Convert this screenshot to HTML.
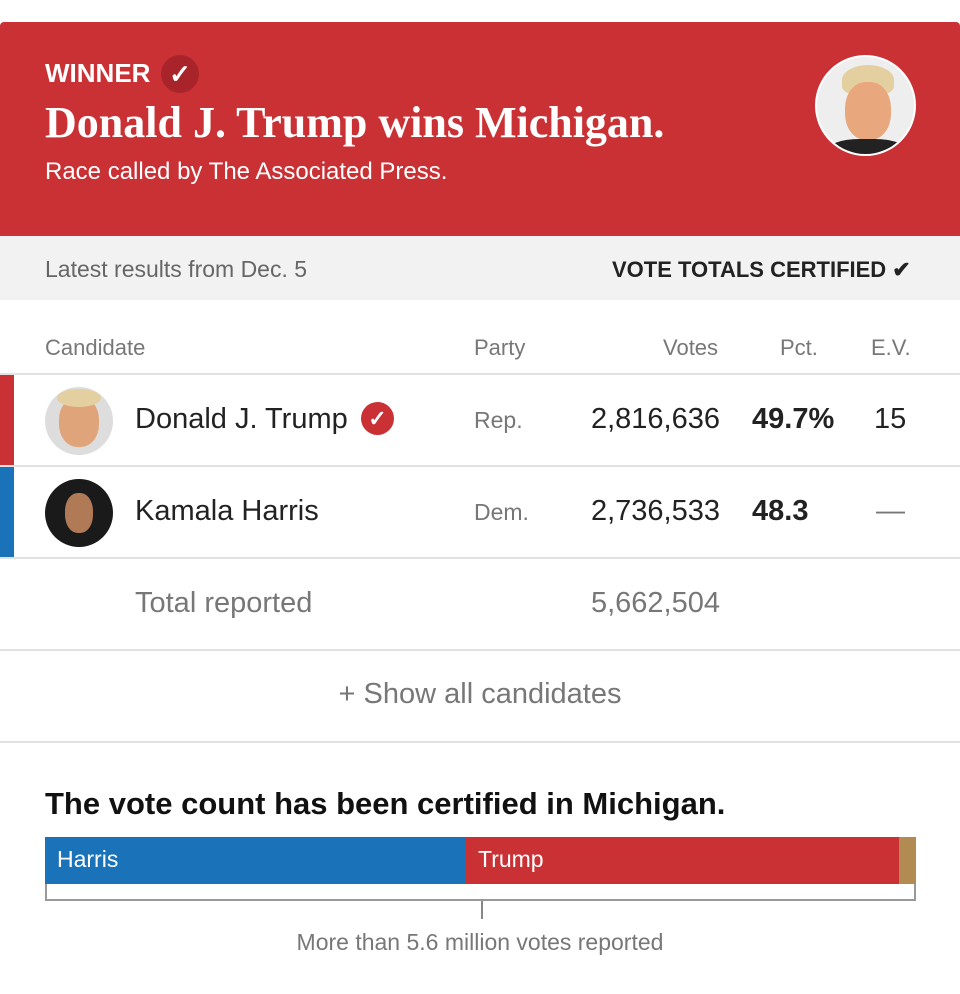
<!DOCTYPE html>
<html><head><meta charset="utf-8"><style>
*{margin:0;padding:0;box-sizing:border-box}
body{width:960px;height:994px;background:#fff;font-family:"Liberation Sans",sans-serif;position:relative;overflow:hidden;color:#333}
.a{position:absolute;white-space:nowrap}
.hdr{position:absolute;left:0;top:22px;width:960px;height:214px;background:#c93135;border-radius:4px 4px 0 0}
.gray{position:absolute;left:0;top:236px;width:960px;height:64px;background:#f2f2f2}
.line{position:absolute;left:0;width:960px;height:2px;background:#e2e2e2}
.av{position:absolute;border-radius:50%;overflow:hidden}
</style></head><body>
<div class="hdr"></div>
<div class="a" style="left:45px;top:58px;font-size:26px;font-weight:bold;color:#fff">WINNER</div>
<div class="a" style="left:161px;top:55px;width:38px;height:38px;border-radius:50%;background:#a9242a;color:#fff;font-size:26px;text-align:center;line-height:38px;font-weight:bold">✓</div>
<div class="a" style="left:45px;top:97px;font-size:44px;font-weight:bold;color:#fff;font-family:'Liberation Serif',serif;letter-spacing:0px">Donald J. Trump wins Michigan.</div>
<div class="a" style="left:45px;top:158px;font-size:24px;color:#fff">Race called by The Associated Press.</div>
<div class="av" style="left:815px;top:55px;width:101px;height:101px;background:#eee;border:2px solid #fff">
<div style="position:absolute;left:25px;top:8px;width:52px;height:30px;background:#e3cf9f;border-radius:50% 50% 30% 30%"></div>
<div style="position:absolute;left:28px;top:25px;width:46px;height:58px;background:#e8a77c;border-radius:45%"></div>
<div style="position:absolute;left:10px;top:82px;width:80px;height:30px;background:#222;border-radius:40% 40% 0 0"></div></div>
<div class="gray"></div>
<div class="a" style="left:45px;top:256px;font-size:23px;color:#666">Latest results from Dec. 5</div>
<div class="a" style="left:612px;top:257px;font-size:22px;font-weight:bold;color:#222">VOTE TOTALS CERTIFIED ✔</div>
<div class="a" style="left:45px;top:335px;font-size:22px;color:#777">Candidate</div>
<div class="a" style="left:474px;top:335px;font-size:22px;color:#777">Party</div>
<div class="a" style="left:663px;top:335px;font-size:22px;color:#777">Votes</div>
<div class="a" style="left:780px;top:335px;font-size:22px;color:#777">Pct.</div>
<div class="a" style="left:871px;top:335px;font-size:22px;color:#777">E.V.</div>
<div class="line" style="top:373px"></div>
<div class="a" style="left:0;top:375px;width:14px;height:90px;background:#c93135"></div>
<div class="av" style="left:45px;top:387px;width:68px;height:68px;background:#ddd"><div style="position:absolute;left:14px;top:10px;width:40px;height:50px;background:#e0a47a;border-radius:45%"></div><div style="position:absolute;left:12px;top:2px;width:44px;height:18px;background:#e3cf9f;border-radius:50%"></div></div>
<div class="a" style="left:135px;top:403px;font-size:29px;color:#222">Donald J. Trump</div>
<div class="a" style="left:361px;top:402px;width:33px;height:33px;border-radius:50%;background:#c93135;color:#fff;font-size:22px;text-align:center;line-height:33px;font-weight:bold">✓</div>
<div class="a" style="left:474px;top:407px;font-size:23px;color:#777">Rep.</div>
<div class="a" style="left:520px;top:403px;width:200px;text-align:right;font-size:29px;color:#222">2,816,636</div>
<div class="a" style="left:752px;top:403px;font-size:29px;font-weight:bold;color:#222">49.7%</div>
<div class="a" style="left:874px;top:403px;font-size:29px;color:#222">15</div>
<div class="line" style="top:465px"></div>
<div class="a" style="left:0;top:467px;width:14px;height:90px;background:#1a73b8"></div>
<div class="av" style="left:45px;top:479px;width:68px;height:68px;background:#1a1a1a"><div style="position:absolute;left:20px;top:14px;width:28px;height:40px;background:#b07a56;border-radius:45%"></div></div>
<div class="a" style="left:135px;top:495px;font-size:29px;color:#222">Kamala Harris</div>
<div class="a" style="left:474px;top:499px;font-size:23px;color:#777">Dem.</div>
<div class="a" style="left:520px;top:495px;width:200px;text-align:right;font-size:29px;color:#222">2,736,533</div>
<div class="a" style="left:752px;top:495px;font-size:29px;font-weight:bold;color:#222">48.3</div>
<div class="a" style="left:876px;top:495px;font-size:29px;color:#777">—</div>
<div class="line" style="top:557px"></div>
<div class="a" style="left:135px;top:587px;font-size:29px;color:#777">Total reported</div>
<div class="a" style="left:520px;top:587px;width:200px;text-align:right;font-size:29px;color:#777">5,662,504</div>
<div class="line" style="top:649px"></div>
<div class="a" style="left:0;top:678px;width:960px;text-align:center;font-size:29px;color:#777">+ Show all candidates</div>
<div class="line" style="top:741px"></div>
<div class="a" style="left:45px;top:786px;font-size:31px;font-weight:bold;color:#111">The vote count has been certified in Michigan.</div>
<div class="a" style="left:45px;top:837px;width:871px;height:64px;border:2px solid #999;border-top:none"></div>
<div class="a" style="left:45px;top:837px;width:421px;height:47px;background:#1a73b8"></div>
<div class="a" style="left:466px;top:837px;width:433px;height:47px;background:#c93135"></div>
<div class="a" style="left:899px;top:837px;width:17px;height:47px;background:#b28b52"></div>
<div class="a" style="left:57px;top:846px;font-size:23px;color:#fff">Harris</div>
<div class="a" style="left:478px;top:846px;font-size:23px;color:#fff">Trump</div>
<div class="a" style="left:481px;top:901px;width:2px;height:18px;background:#888"></div>
<div class="a" style="left:0;top:929px;width:960px;text-align:center;font-size:23px;color:#777">More than 5.6 million votes reported</div>
</body></html>
